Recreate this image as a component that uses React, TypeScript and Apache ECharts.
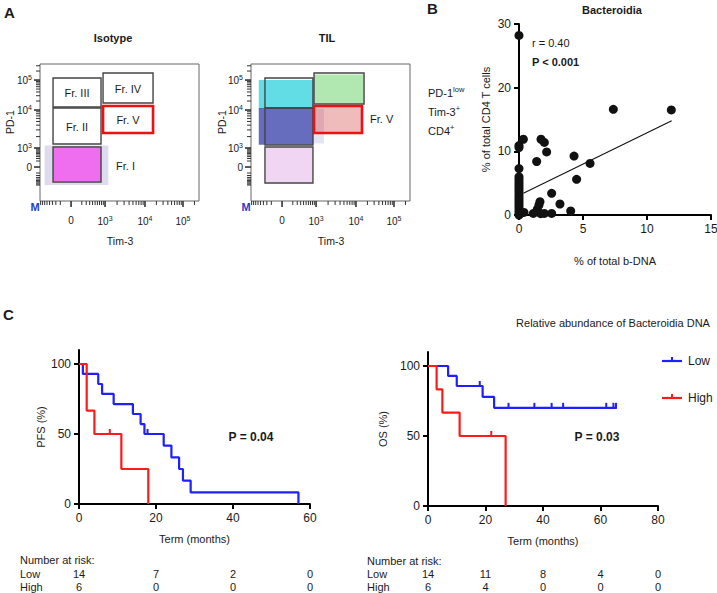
import React, { useEffect, useRef } from 'react';
import * as echarts from 'echarts';

const FONT = "'Liberation Sans', Arial, Helvetica, sans-serif";
const INK = '#1a1a1a';

const flowXMajor = [200, 419, 676, 921];
const flowYMajor = [254, 396, 680, 904];
const flowMajorLabels = ['0', '10{s|3}', '10{s|4}', '10{s|5}'];

const isoGates = [
  [84, 703, 393, 919],
  [406, 732, 728, 957],
  [84, 426, 393, 695],
  [84, 142, 393, 404],
];
const isoGateV = [[406, 508, 728, 710]];
const tilGates = [
  [90, 695, 399, 919],
  [406, 725, 728, 957],
  [90, 419, 399, 695],
  [90, 135, 399, 404],
];
const tilGateV = [[406, 508, 715, 710]];

const isoClouds = [
  [30, 120, 440, 415],
  [84, 150, 393, 398],
];
const isoCloudColors = ['rgba(40,40,150,0.16)', 'rgba(240,100,240,0.92)'];
const tilClouds = [
  [50, 692, 400, 905],
  [50, 420, 400, 695],
  [400, 430, 470, 690],
  [408, 728, 726, 945],
  [408, 510, 713, 708],
  [92, 138, 397, 402],
];
const tilCloudColors = [
  'rgba(70,215,225,0.85)',
  'rgba(30,40,160,0.68)',
  'rgba(30,40,160,0.12)',
  'rgba(70,200,70,0.42)',
  'rgba(210,60,60,0.35)',
  'rgba(215,140,225,0.36)',
];

const bacteroidiaPoints = [
  [0, 28.2], [0, 10.9], [0, 10.6], [0.34, 11.9], [0, 7.3], [0, 6.0], [0, 5.6], [0, 5.2],
  [0, 4.8], [0, 4.4], [0, 4.0], [0, 3.6], [0, 3.2], [0, 2.8], [0, 2.4], [0, 2.0], [0, 1.6],
  [0, 1.2], [0, 0.8], [0, 0.4], [0, 0], [0.15, 0.3], [0.39, 0.4], [1.12, 0.25], [1.43, 0.9],
  [1.56, 1.57], [1.64, 2.1], [1.98, 0.25], [2.55, 0.25], [1.7, 0.2], [2.55, 3.4], [3.2, 1.73],
  [4.04, 0.63], [1.38, 8.4], [1.72, 11.9], [1.98, 11.4], [2.16, 9.9], [4.3, 9.26], [5.55, 8.1],
  [4.5, 5.6], [7.37, 16.6], [11.9, 16.5],
];
const regressionLine = [[0.34, 3.4], [11.93, 14.8]];

const pfsLow = [[0, 100], [1, 92.9], [5, 85.7], [6, 78.6], [9, 71.4], [14, 64.3], [16, 57.1], [17, 50], [22, 41.7], [24, 33.3], [26, 25], [27, 16.7], [29, 8.3], [57, 0]];
const pfsHigh = [[0, 100], [2, 66.7], [4, 50], [11, 25], [18, 0]];
const pfsLowCensor = [[17.8, 50]];
const pfsHighCensor = [[8, 50]];
const osLow = [[0, 100], [7, 92.9], [10, 85.7], [19, 77.9], [23, 70.1], [65.4, 70.1]];
const osHigh = [[0, 100], [3, 83.3], [5, 66.7], [11, 50], [27, 0]];
const osLowCensor = [[18, 85.7], [28, 70.1], [37, 70.1], [43, 70.1], [47, 70.1], [62, 70.1], [64.5, 70.1], [65.4, 70.1]];
const osHighCensor = [[22, 50]];

const pfsRiskTimes = [0, 20, 40, 60];
const pfsRiskLow = [14, 7, 2, 0];
const pfsRiskHigh = [6, 0, 0, 0];
const osRiskTimes = [0, 20, 40, 60, 80];
const osRiskLow = [14, 11, 8, 4, 0];
const osRiskHigh = [6, 4, 0, 0, 0];

const BLUE = '#1f1fff';
const RED = '#ff1a1a';

function logMinors(a: number, b: number) {
  const out: number[] = [];
  for (let k = 2; k <= 9; k++) out.push(a + (b - a) * Math.log10(k));
  return out;
}
function linTicks(zero: number, dec: number) {
  const out: number[] = [];
  const span = dec - zero;
  for (let k = 1; k <= 9; k++) {
    out.push(zero + span * Math.sqrt(k / 10));
    out.push(zero - span * Math.sqrt(k / 10));
  }
  return out;
}
const flowXMinor = [
  ...linTicks(flowXMajor[0], flowXMajor[1]),
  ...logMinors(flowXMajor[1], flowXMajor[2]),
  ...logMinors(flowXMajor[2], flowXMajor[3]),
  ...logMinors(flowXMajor[3], flowXMajor[3] + (flowXMajor[3] - flowXMajor[2])),
].filter((v) => v >= 4 && v <= 1020);
const flowYMinor = [
  ...linTicks(flowYMajor[0], flowYMajor[1]),
  ...logMinors(flowYMajor[1], flowYMajor[2]),
  ...logMinors(flowYMajor[2], flowYMajor[3]),
  ...logMinors(flowYMajor[3], flowYMajor[3] + (flowYMajor[3] - flowYMajor[2])),
].filter((v) => v >= 60 && v <= 1020);

const rich = { s: { fontSize: 7, padding: [0, 0, 6, 0], fontFamily: FONT, color: INK } };

function flowXAxis(gridIndex: number) {
  return {
    type: 'value', gridIndex, min: 0, max: 1024,
    axisLine: { show: false }, splitLine: { show: false }, axisTick: { show: false },
    axisLabel: {
      customValues: flowXMajor, fontSize: 10, fontFamily: FONT, color: INK, margin: 14, rich,
      formatter: (v: number) => flowMajorLabels[flowXMajor.indexOf(v)] ?? '',
    },
  };
}
function flowYAxis(gridIndex: number) {
  return {
    type: 'value', gridIndex, min: 0, max: 1024,
    axisLine: { show: false }, splitLine: { show: false }, axisTick: { show: false },
    axisLabel: {
      customValues: flowYMajor, fontSize: 10, fontFamily: FONT, color: INK, margin: 8, rich,
      formatter: (v: number) => flowMajorLabels[flowYMajor.indexOf(v)] ?? '',
    },
  };
}

function rectRender(fills: string[] | null, stroke: string, lw: number) {
  return (params: any, api: any) => {
    const p0 = api.coord([api.value(0), api.value(1)]);
    const p1 = api.coord([api.value(2), api.value(3)]);
    return {
      type: 'rect',
      shape: {
        x: Math.min(p0[0], p1[0]), y: Math.min(p0[1], p1[1]),
        width: Math.abs(p1[0] - p0[0]), height: Math.abs(p1[1] - p0[1]),
      },
      style: {
        fill: fills ? fills[params.dataIndex] : 'none',
        stroke: fills ? 'none' : stroke,
        lineWidth: lw,
      },
    };
  };
}

function kmXAxis(gridIndex: number, max: number, ticks: number[]) {
  return {
    type: 'value', gridIndex, min: 0, max,
    axisLine: { show: true, lineStyle: { color: '#000', width: 2 } },
    axisTick: { show: true, customValues: ticks, length: 5, lineStyle: { color: '#000', width: 2 } },
    axisLabel: { customValues: ticks, fontSize: 12, fontFamily: FONT, color: INK, margin: 8 },
    splitLine: { show: false },
    name: 'Term (months)', nameLocation: 'middle', nameGap: 29,
    nameTextStyle: { fontSize: 11, fontFamily: FONT, color: INK },
  };
}
function kmYAxis(gridIndex: number, name: string, gap: number) {
  return {
    type: 'value', gridIndex, min: 0, max: 110,
    axisLine: { show: true, lineStyle: { color: '#000', width: 2 } },
    axisTick: { show: true, customValues: [0, 50, 100], length: 5, lineStyle: { color: '#000', width: 2 } },
    axisLabel: { customValues: [0, 50, 100], fontSize: 12, fontFamily: FONT, color: INK, margin: 8 },
    splitLine: { show: false },
    name, nameLocation: 'middle', nameGap: gap, nameRotate: 90,
    nameTextStyle: { fontSize: 11, fontFamily: FONT, color: INK },
  };
}

function kmLine(xi: number, data: number[][], color: string) {
  return {
    type: 'line', xAxisIndex: xi, yAxisIndex: xi, data, step: 'end', symbol: 'none',
    lineStyle: { color, width: 2.2 }, silent: true,
  };
}
function kmCensor(xi: number, data: number[][], color: string) {
  return {
    type: 'scatter', xAxisIndex: xi, yAxisIndex: xi, data, symbol: 'rect',
    symbolSize: [2, 6], symbolOffset: [0, -2], itemStyle: { color, opacity: 1 }, silent: true,
  };
}

function buildOption() {
  const gridBase = { show: false, containLabel: false, outerBoundsMode: 'none' };
  const flowSeries = (i: number, clouds: number[][], cloudColors: string[], gates: number[][], gateV: number[][]) => [
    { type: 'custom', xAxisIndex: i, yAxisIndex: i, data: clouds, renderItem: rectRender(cloudColors, '', 0), silent: true },
    { type: 'custom', xAxisIndex: i, yAxisIndex: i, data: gates, renderItem: rectRender(null, '#444', 1.4), silent: true },
    { type: 'custom', xAxisIndex: i, yAxisIndex: i, data: gateV, renderItem: rectRender(null, '#ee1111', 2.6), silent: true },
  ];
  return {
    animation: false,
    backgroundColor: '#ffffff',
    textStyle: { fontFamily: FONT },
    grid: [
      { ...gridBase, show: true, borderColor: '#666', borderWidth: 1, left: 40, top: 64, width: 159, height: 137 },
      { ...gridBase, show: true, borderColor: '#666', borderWidth: 1, left: 251, top: 64, width: 159, height: 137 },
      { ...gridBase, left: 519, top: 24, width: 192, height: 191 },
      { ...gridBase, left: 79, top: 350, width: 231, height: 154 },
      { ...gridBase, left: 428, top: 352, width: 230, height: 154 },
    ],
    xAxis: [
      flowXAxis(0),
      flowXAxis(1),
      {
        type: 'value', gridIndex: 2, min: 0, max: 15, interval: 5,
        axisLine: { show: true, lineStyle: { color: '#000', width: 2 } },
        axisTick: { show: true, length: 5, lineStyle: { color: '#000', width: 2 } },
        axisLabel: { fontSize: 12, fontFamily: FONT, color: INK, margin: 8 },
        splitLine: { show: false },
        name: '% of total b-DNA', nameLocation: 'middle', nameGap: 40,
        nameTextStyle: { fontSize: 11, fontFamily: FONT, color: INK },
      },
      kmXAxis(3, 60, pfsRiskTimes),
      kmXAxis(4, 80, osRiskTimes),
    ],
    yAxis: [
      flowYAxis(0),
      flowYAxis(1),
      {
        type: 'value', gridIndex: 2, min: 0, max: 30, interval: 10,
        axisLine: { show: true, lineStyle: { color: '#000', width: 2 } },
        axisTick: { show: true, length: 5, lineStyle: { color: '#000', width: 2 } },
        axisLabel: { fontSize: 12, fontFamily: FONT, color: INK, margin: 8 },
        splitLine: { show: false },
        name: '% of total CD4 T cells', nameLocation: 'middle', nameGap: 28, nameRotate: 90,
        nameTextStyle: { fontSize: 11, fontFamily: FONT, color: INK },
      },
      kmYAxis(3, 'PFS (%)', 33),
      kmYAxis(4, 'OS (%)', 40),
    ],
    series: [
      ...flowSeries(0, isoClouds, isoCloudColors, isoGates, isoGateV),
      ...flowSeries(1, tilClouds, tilCloudColors, tilGates, tilGateV),
      {
        type: 'scatter', xAxisIndex: 2, yAxisIndex: 2, data: bacteroidiaPoints, symbol: 'circle',
        symbolSize: 9, itemStyle: { color: '#111', opacity: 1 }, silent: true, clip: false,
      },
      {
        type: 'line', xAxisIndex: 2, yAxisIndex: 2, data: regressionLine, symbol: 'none',
        lineStyle: { color: '#111', width: 1.1 }, silent: true,
      },
      kmLine(3, pfsLow, BLUE),
      kmLine(3, pfsHigh, RED),
      kmCensor(3, pfsLowCensor, BLUE),
      kmCensor(3, pfsHighCensor, RED),
      kmLine(4, osLow, BLUE),
      kmLine(4, osHigh, RED),
      kmCensor(4, osLowCensor, BLUE),
      kmCensor(4, osHighCensor, RED),
    ],
  };
}

function txt(text: string, x: number, y: number, opts: any = {}) {
  return {
    type: 'text', x, y, silent: true,
    rotation: opts.rotation ?? 0,
    style: {
      text, fontSize: opts.size ?? 11, fontFamily: FONT, fontWeight: opts.bold ? 'bold' : 'normal',
      fill: opts.color ?? INK, align: opts.align ?? 'left', verticalAlign: 'middle',
      rich: opts.rich,
    },
  };
}

function buildGraphics(chart: any) {
  const g: any[] = [];
  // flow axis ticks, placed through the flow axes' own scales
  const addFlowTicks = (axisIdx: number) => {
    const tickLine = (x1: number, y1: number, x2: number, y2: number, w: number) => ({
      type: 'line', silent: true, shape: { x1, y1, x2, y2 }, style: { stroke: '#333', lineWidth: w },
    });
    const yBottom = chart.convertToPixel({ yAxisIndex: axisIdx }, 0);
    const xLeft = chart.convertToPixel({ xAxisIndex: axisIdx }, 0);
    flowXMajor.forEach((v) => {
      const x = chart.convertToPixel({ xAxisIndex: axisIdx }, v);
      g.push(tickLine(x, yBottom, x, yBottom + 6, 1.6));
    });
    flowXMinor.forEach((v) => {
      const x = chart.convertToPixel({ xAxisIndex: axisIdx }, v);
      g.push(tickLine(x, yBottom, x, yBottom + 4, 1));
    });
    flowYMajor.forEach((v) => {
      const y = chart.convertToPixel({ yAxisIndex: axisIdx }, v);
      g.push(tickLine(xLeft - 6, y, xLeft, y, 1.6));
    });
    flowYMinor.forEach((v) => {
      const y = chart.convertToPixel({ yAxisIndex: axisIdx }, v);
      g.push(tickLine(xLeft - 4, y, xLeft, y, 1));
    });
  };
  addFlowTicks(0);
  addFlowTicks(1);
  // Panel A
  g.push(txt('A', 4, 12, { size: 15, bold: true }));
  g.push(txt('Isotype', 113, 38, { bold: true, align: 'center' }));
  g.push(txt('TIL', 327, 38, { bold: true, align: 'center' }));
  g.push(txt('PD-1', 10, 122, { align: 'center', rotation: Math.PI / 2, size: 10.5 }));
  g.push(txt('PD-1', 222, 122, { align: 'center', rotation: Math.PI / 2, size: 10.5 }));
  g.push(txt('Tim-3', 120, 241, { align: 'center', size: 10.5 }));
  g.push(txt('Tim-3', 331, 241, { align: 'center', size: 10.5 }));
  g.push(txt('M', 35, 207, { align: 'center', bold: true, color: '#2a3cc8', size: 11 }));
  g.push(txt('M', 246, 207, { align: 'center', bold: true, color: '#2a3cc8', size: 11 }));
  g.push(txt('Fr. III', 77, 93, { align: 'center' }));
  g.push(txt('Fr. IV', 128, 89, { align: 'center' }));
  g.push(txt('Fr. II', 77, 127, { align: 'center' }));
  g.push(txt('Fr. V', 128, 120, { align: 'center' }));
  g.push(txt('Fr. I', 116, 166));
  g.push(txt('Fr. V', 370, 119));
  // Panel B
  g.push(txt('B', 427, 8, { size: 15, bold: true }));
  g.push(txt('Bacteroidia', 612, 10, { bold: true, align: 'center' }));
  g.push(txt('r = 0.40', 532, 43));
  g.push(txt('P < 0.001', 532, 62, { bold: true }));
  const supRich = { s: { fontSize: 7.5, padding: [0, 0, 7, 0], fontFamily: FONT, fill: INK } };
  g.push(txt('PD-1{s|low}', 428, 93, { rich: supRich }));
  g.push(txt('Tim-3{s|+}', 428, 112, { rich: supRich }));
  g.push(txt('CD4{s|+}', 428, 131, { rich: supRich }));
  // Panel C
  g.push(txt('C', 3, 314, { size: 15, bold: true }));
  g.push(txt('Relative abundance of Bacteroidia DNA', 613, 323, { align: 'center' }));
  g.push(txt('P = 0.04', 251, 437, { bold: true, align: 'center', size: 12 }));
  g.push(txt('P = 0.03', 597, 437, { bold: true, align: 'center', size: 12 }));
  // legend
  g.push({ type: 'line', silent: true, shape: { x1: 662, y1: 361, x2: 682, y2: 361 }, style: { stroke: BLUE, lineWidth: 2.2 } });
  g.push({ type: 'line', silent: true, shape: { x1: 672, y1: 357, x2: 672, y2: 362 }, style: { stroke: BLUE, lineWidth: 2 } });
  g.push(txt('Low', 688, 361, { size: 12 }));
  g.push({ type: 'line', silent: true, shape: { x1: 662, y1: 398, x2: 682, y2: 398 }, style: { stroke: RED, lineWidth: 2.2 } });
  g.push({ type: 'line', silent: true, shape: { x1: 672, y1: 394, x2: 672, y2: 399 }, style: { stroke: RED, lineWidth: 2 } });
  g.push(txt('High', 688, 398, { size: 12 }));
  // Number at risk
  g.push(txt('Number at risk:', 20, 560));
  g.push(txt('Low', 20, 574));
  g.push(txt('High', 20, 587));
  g.push(txt('Number at risk:', 367, 561));
  g.push(txt('Low', 367, 574));
  g.push(txt('High', 367, 587));
  pfsRiskTimes.forEach((t, i) => {
    const x = chart.convertToPixel({ xAxisIndex: 3 }, t);
    g.push(txt(String(pfsRiskLow[i]), x, 574, { align: 'center' }));
    g.push(txt(String(pfsRiskHigh[i]), x, 587, { align: 'center' }));
  });
  osRiskTimes.forEach((t, i) => {
    const x = chart.convertToPixel({ xAxisIndex: 4 }, t);
    g.push(txt(String(osRiskLow[i]), x, 574, { align: 'center' }));
    g.push(txt(String(osRiskHigh[i]), x, 587, { align: 'center' }));
  });
  return g;
}

export default function App() {
  const ref = useRef<HTMLDivElement>(null);
  useEffect(() => {
    const chart = echarts.init(ref.current!, null, { renderer: 'svg' });
    chart.setOption(buildOption() as any);
    chart.setOption({ graphic: buildGraphics(chart) } as any);
    return () => chart.dispose();
  }, []);
  return (
    <div
      ref={ref}
      style={{ position: 'fixed', left: 0, top: 0, width: 717, height: 593, background: '#fff' }}
    />
  );
}
